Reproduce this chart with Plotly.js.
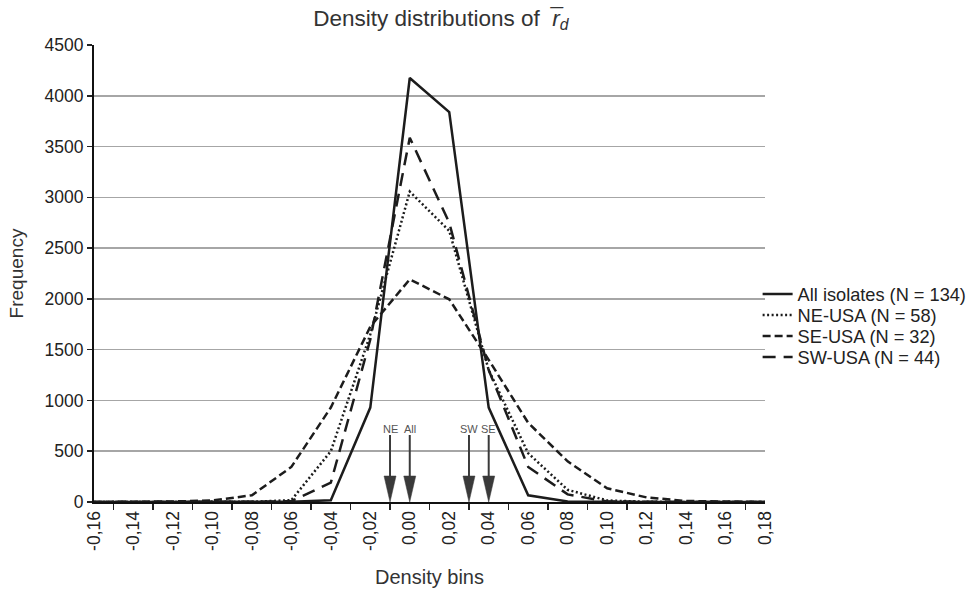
<!DOCTYPE html>
<html>
<head>
<meta charset="utf-8">
<script src="https://cdn.plot.ly/plotly-3.0.1.min.js"></script>
<style>
  html, body { margin: 0; padding: 0; background: #fff; }
  #chart { width: 969px; height: 592px; }
</style>
</head>
<body>
<div id="chart"></div>
<script>
// Density bins (category labels) and their numeric values
var binValues = [-0.16, -0.14, -0.12, -0.10, -0.08, -0.06, -0.04, -0.02, 0.00, 0.02, 0.04, 0.06, 0.08, 0.10, 0.12, 0.14, 0.16, 0.18];
var binLabels = ['-0,16', '-0,14', '-0,12', '-0,10', '-0,08', '-0,06', '-0,04', '-0,02', '0,00', '0,02', '0,04', '0,06', '0,08', '0,10', '0,12', '0,14', '0,16', '0,18'];

// Frequencies
var allIsolates = [0, 0, 0, 0, 0, 2, 17, 930, 4175, 3840, 930, 66, 5, 0, 0, 0, 0, 0];
var neUSA       = [0, 0, 0, 0, 2, 18, 500, 1650, 3057, 2670, 1300, 480, 120, 15, 2, 0, 0, 0];
var seUSA       = [0, 0, 5, 15, 66, 345, 930, 1726, 2193, 1996, 1400, 780, 400, 135, 45, 10, 3, 0];
var swUSA       = [0, 0, 0, 0, 2, 8, 190, 1600, 3587, 2750, 1300, 345, 75, 5, 0, 0, 0, 0];

var seriesNames = ['All isolates (N = 134)', 'NE-USA (N = 58)', 'SE-USA (N = 32)', 'SW-USA (N = 44)'];

// Mean markers (arrows): label and position in density units
var markerLabels = ['NE', 'All', 'SW', 'SE'];
var markerValues = [-0.01, 0.00, 0.03, 0.04];

var FONT = 'Arial, "Liberation Sans", Helvetica, sans-serif';
var LINE = '#1c1c1c';

function toIndex(v) { return (v - binValues[0]) / (binValues[1] - binValues[0]); }

var legendIds = ['legend', 'legend2', 'legend3', 'legend4'];
var dashes = ['solid', '2px,2.5px', '8px,4px', '13px,8px'];
var seriesData = [allIsolates, neUSA, seUSA, swUSA];

var traces = seriesData.map(function (ys, i) {
  return { x: binLabels, y: ys, name: seriesNames[i], type: 'scatter', mode: 'lines',
    legend: legendIds[i], line: { color: LINE, width: 2.5, dash: dashes[i] } };
});

var shapes = [];
var annotations = [];
markerValues.forEach(function (v, i) {
  var xi = toIndex(v);
  shapes.push({ type: 'line', xref: 'x', yref: 'y', x0: xi, x1: xi, y0: 250, y1: 660,
    line: { color: '#3a3a3a', width: 2 }, layer: 'above' });
  shapes.push({ type: 'path', xref: 'x', yref: 'y', xsizemode: 'pixel', ysizemode: 'pixel',
    xanchor: xi, yanchor: 0, path: 'M-6,26 L6,26 L0,0 Z',
    fillcolor: '#3a3a3a', line: { color: '#3a3a3a', width: 0.5 }, layer: 'above' });
  annotations.push({ xref: 'x', yref: 'y', x: xi, y: 640, text: markerLabels[i], showarrow: false,
    yanchor: 'bottom', font: { family: FONT, size: 11, color: '#555' } });
});

function legendAt(yPaper) {
  return {
    x: 0.989, xanchor: 'left', y: yPaper, yanchor: 'middle',
    font: { family: FONT, size: 18.2, color: '#222' },
    bgcolor: 'rgba(0,0,0,0)', borderwidth: 0, itemwidth: 30
  };
}

var layout = {
  width: 969, height: 592,
  margin: { l: 94, r: 204, t: 45, b: 90, autoexpand: false },
  paper_bgcolor: '#fff', plot_bgcolor: '#fff',
  font: { family: FONT, size: 17.5, color: '#222' },
  title: { text: 'Density distributions of  <i>r\u0305</i><sub><i>d</i></sub>', x: 0.455, xanchor: 'center',
    y: 0.97, yanchor: 'middle', font: { family: FONT, size: 22.5, color: '#333' } },
  xaxis: {
    type: 'category', tickson: 'boundaries', ticks: 'outside', ticklen: 6, tickwidth: 1.5, tickcolor: '#222',
    tickangle: -90, tickfont: { family: FONT, size: 17.5, color: '#222' },
    showline: true, linecolor: '#111', linewidth: 2, showgrid: false, zeroline: false,
    title: { text: 'Density bins', font: { family: FONT, size: 20, color: '#333' }, standoff: 20 }
  },
  yaxis: {
    range: [0, 4500], tickvals: [0, 500, 1000, 1500, 2000, 2500, 3000, 3500, 4000, 4500],
    ticks: 'outside', ticklen: 5, tickwidth: 1.5, tickcolor: '#222',
    tickfont: { family: FONT, size: 17.5, color: '#222' },
    showline: true, linecolor: '#111', linewidth: 2,
    showgrid: true, gridcolor: '#a6a6a6', gridwidth: 1.5, zeroline: false,
    title: { text: 'Frequency', font: { family: FONT, size: 19, color: '#333' }, standoff: 16 }
  },
  legend: legendAt(0.455),
  legend2: legendAt(0.409),
  legend3: legendAt(0.363),
  legend4: legendAt(0.317),
  shapes: shapes,
  annotations: annotations,
  showlegend: true
};

Plotly.newPlot('chart', traces, layout, { displayModeBar: false, staticPlot: true });
</script>
</body>
</html>
